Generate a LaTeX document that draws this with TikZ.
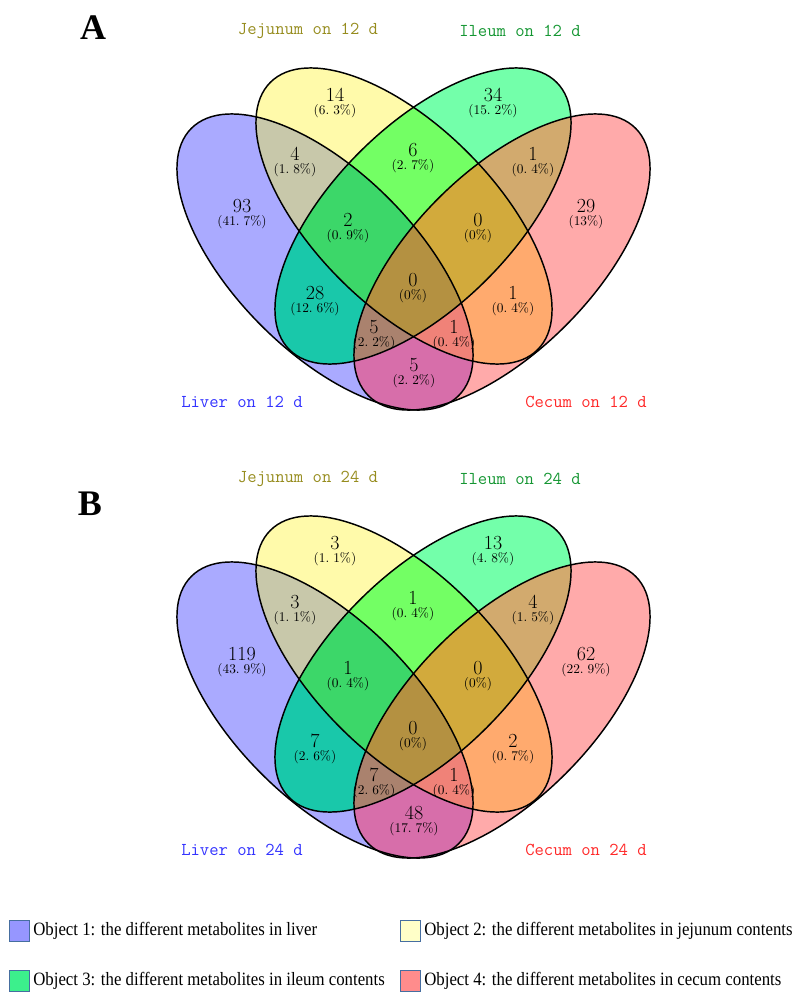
\documentclass[tikz,border=0pt]{standalone}
\usepackage{fontspec}
\newfontfamily\legendfont{Liberation Serif}
% region colours
\definecolor{rB}{RGB}{170,170,255}
\definecolor{rY}{RGB}{255,250,170}
\definecolor{rG}{RGB}{115,255,170}
\definecolor{rP}{RGB}{255,170,170}
\definecolor{rBY}{RGB}{200,200,170}
\definecolor{rBG}{RGB}{25,200,170}
\definecolor{rBP}{RGB}{215,110,170}
\definecolor{rYG}{RGB}{115,255,100}
\definecolor{rYP}{RGB}{255,170,110}
\definecolor{rGP}{RGB}{210,170,110}
\definecolor{rBYG}{RGB}{60,215,105}
\definecolor{rBYP}{RGB}{240,130,120}
\definecolor{rBGP}{RGB}{170,130,110}
\definecolor{rYGP}{RGB}{210,170,60}
\definecolor{rAll}{RGB}{180,145,65}
% text and key colours
\definecolor{txtolive}{RGB}{150,140,30}
\definecolor{txtgreen}{RGB}{20,150,50}
\definecolor{txtblue}{RGB}{50,50,255}
\definecolor{txtred}{RGB}{255,40,40}
\definecolor{keyedge}{RGB}{70,110,160}
\definecolor{keyblue}{RGB}{150,150,255}
\definecolor{keyyellow}{RGB}{255,255,200}
\definecolor{keygreen}{RGB}{60,240,140}
\definecolor{keypink}{RGB}{255,140,140}

\tikzset{
  eB/.style={shift={(325,262)}, rotate=-45},
  eY/.style={shift={(404,216)}, rotate=-45},
  eG/.style={shift={(423,216)}, rotate=45},
  eP/.style={shift={(502,262)}, rotate=45},
  setedge/.style={draw=black, line width=1.1pt, fill=none},
  numlbl/.style={font=\fontsize{15}{16}\selectfont, inner sep=0pt, text height=0.65em, text depth=0pt},
  pctlbl/.style={font=\fontsize{10}{11}\selectfont, inner sep=0pt, text height=0.72em, text depth=0.22em},
  setlbl/.style={font=\ttfamily\fontsize{13.6}{15}\selectfont, inner sep=0pt},
  panellbl/.style={font=\legendfont\bfseries\fontsize{27}{30}\selectfont, inner sep=0pt},
  keybox/.style={draw=keyedge, line width=0.8pt, minimum width=15.5pt, minimum height=16pt, inner sep=0pt},
  keytxt/.style={font=\legendfont\fontsize{12.6}{14}\selectfont, inner sep=0pt, anchor=west},
}

\newcommand\clipset[1]{\clip[#1] (0,0) ellipse [x radius=189, y radius=90];}
\newcommand\fillset[2]{\fill[#1, fill=#2] (0,0) ellipse [x radius=189, y radius=90];}
\newcommand\edgeset[1]{\path[setedge, #1] (0,0) ellipse [x radius=189, y radius=90];}

% one four-set diagram: singles, then pairs, triples and the core painted over them
\newcommand\fourellipses{%
  \fillset{eB}{rB}\fillset{eY}{rY}\fillset{eG}{rG}\fillset{eP}{rP}
  \begin{scope}\clipset{eB}\fillset{eY}{rBY}\end{scope}
  \begin{scope}\clipset{eB}\fillset{eG}{rBG}\end{scope}
  \begin{scope}\clipset{eB}\fillset{eP}{rBP}\end{scope}
  \begin{scope}\clipset{eY}\fillset{eG}{rYG}\end{scope}
  \begin{scope}\clipset{eY}\fillset{eP}{rYP}\end{scope}
  \begin{scope}\clipset{eG}\fillset{eP}{rGP}\end{scope}
  \begin{scope}\clipset{eB}\clipset{eY}\fillset{eG}{rBYG}\end{scope}
  \begin{scope}\clipset{eB}\clipset{eY}\fillset{eP}{rBYP}\end{scope}
  \begin{scope}\clipset{eB}\clipset{eG}\fillset{eP}{rBGP}\end{scope}
  \begin{scope}\clipset{eY}\clipset{eG}\fillset{eP}{rYGP}\end{scope}
  \begin{scope}\clipset{eB}\clipset{eY}\clipset{eG}\fillset{eP}{rAll}\end{scope}
  \edgeset{eB}\edgeset{eY}\edgeset{eG}\edgeset{eP}
}

% count and percentage of one region
\newcommand\regionlabel[5]{%
  \node[numlbl] (#1n) at (#2,#3) {#4};
  \node[pctlbl] (#1p) at (#2,#3+14.5) {#5};
}
\newcommand\pc[2]{(#1.\hspace{0.3em}#2\%)}
\newcommand\keyline[1]{\scalebox{1}[1.12]{#1}}

\begin{document}
\begin{tikzpicture}[x=0.75pt,y=-0.75pt]
\useasboundingbox (0,0) rectangle (793,992);

% ---------------- panel A ----------------
\node[panellbl] (pA) at (93,28) {A};
\fourellipses
\node[setlbl, txtolive] (jejA) at (308,31) {Jejunum on 12 d};
\node[setlbl, txtgreen] (ileA) at (520,31) {Ileum on 12 d};
\node[setlbl, txtblue]  (livA) at (242,402) {Liver on 12 d};
\node[setlbl, txtred]   (cecA) at (586,402) {Cecum on 12 d};
\regionlabel{aY}{335}{97}{14}{\pc{6}{3}}
\regionlabel{aG}{493}{97}{34}{\pc{15}{2}}
\regionlabel{aBY}{295}{156}{4}{\pc{1}{8}}
\regionlabel{aYG}{413}{152}{6}{\pc{2}{7}}
\regionlabel{aGP}{533}{156}{1}{\pc{0}{4}}
\regionlabel{aB}{242}{208}{93}{\pc{41}{7}}
\regionlabel{aP}{586}{208}{29}{(13\%)}
\regionlabel{aBYG}{348}{222}{2}{\pc{0}{9}}
\regionlabel{aYGP}{478}{222}{0}{(0\%)}
\regionlabel{aAll}{413}{282}{0}{(0\%)}
\regionlabel{aBG}{315}{295}{28}{\pc{12}{6}}
\regionlabel{aYP}{513}{295}{1}{\pc{0}{4}}
\regionlabel{aBGP}{374}{329}{5}{\pc{2}{2}}
\regionlabel{aBYP}{454}{329}{1}{\pc{0}{4}}
\regionlabel{aBP}{414}{367}{5}{\pc{2}{2}}

% ---------------- panel B ----------------
\node[panellbl] (pB) at (90,504) {B};
\begin{scope}[shift={(0,448)}]
\fourellipses
\node[setlbl, txtolive] (jejB) at (308,31) {Jejunum on 24 d};
\node[setlbl, txtgreen] (ileB) at (520,31) {Ileum on 24 d};
\node[setlbl, txtblue]  (livB) at (242,402) {Liver on 24 d};
\node[setlbl, txtred]   (cecB) at (586,402) {Cecum on 24 d};
\regionlabel{bY}{335}{97}{3}{\pc{1}{1}}
\regionlabel{bG}{493}{97}{13}{\pc{4}{8}}
\regionlabel{bBY}{295}{156}{3}{\pc{1}{1}}
\regionlabel{bYG}{413}{152}{1}{\pc{0}{4}}
\regionlabel{bGP}{533}{156}{4}{\pc{1}{5}}
\regionlabel{bB}{242}{208}{119}{\pc{43}{9}}
\regionlabel{bP}{586}{208}{62}{\pc{22}{9}}
\regionlabel{bBYG}{348}{222}{1}{\pc{0}{4}}
\regionlabel{bYGP}{478}{222}{0}{(0\%)}
\regionlabel{bAll}{413}{282}{0}{(0\%)}
\regionlabel{bBG}{315}{295}{7}{\pc{2}{6}}
\regionlabel{bYP}{513}{295}{2}{\pc{0}{7}}
\regionlabel{bBGP}{374}{329}{7}{\pc{2}{6}}
\regionlabel{bBYP}{454}{329}{1}{\pc{0}{4}}
\regionlabel{bBP}{414}{367}{48}{\pc{17}{7}}
\end{scope}

% ---------------- key ----------------
\node[keybox, fill=keyblue]   (k1) at (19.5,931) {};
\node[keybox, fill=keyyellow] (k2) at (410.5,931) {};
\node[keybox, fill=keygreen]  (k3) at (19.5,981) {};
\node[keybox, fill=keypink]   (k4) at (410.5,981) {};
\node[keytxt] (t1) at ([xshift=2pt]k1.east) {\keyline{Object 1: the different metabolites in liver}};
\node[keytxt] (t2) at ([xshift=2pt]k2.east) {\keyline{Object 2: the different metabolites in jejunum contents}};
\node[keytxt] (t3) at ([xshift=2pt]k3.east) {\keyline{Object 3: the different metabolites in ileum contents}};
\node[keytxt] (t4) at ([xshift=2pt]k4.east) {\keyline{Object 4: the different metabolites in cecum contents}};
\end{tikzpicture}
\end{document}
